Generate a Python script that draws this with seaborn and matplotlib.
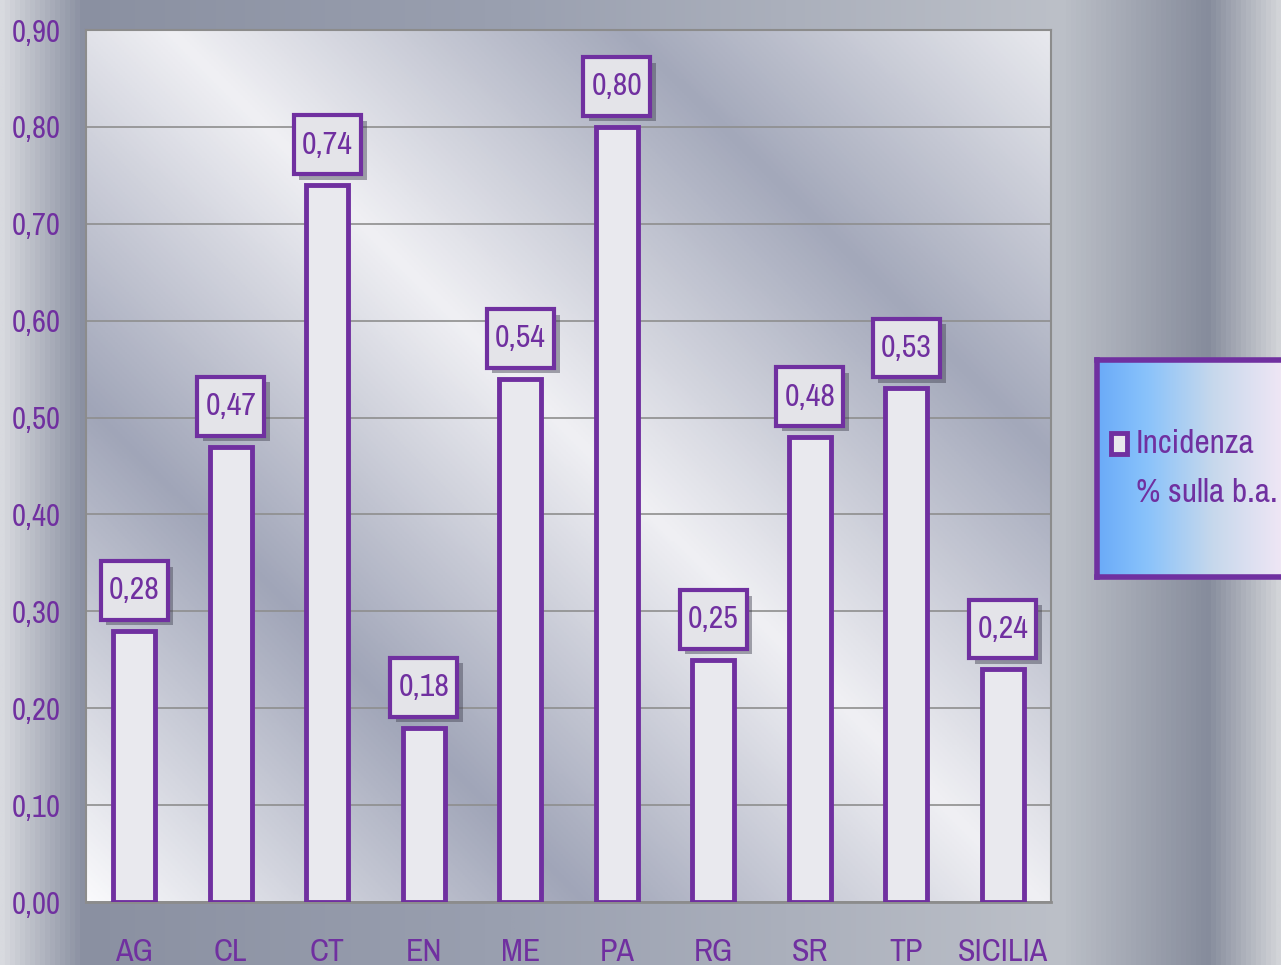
import numpy as np
import pandas as pd
import matplotlib
matplotlib.use("Agg")
import matplotlib.pyplot as plt
import matplotlib.patheffects as pe
import seaborn as sns
from matplotlib import font_manager
from matplotlib.colors import LinearSegmentedColormap
from matplotlib.patches import Rectangle
from matplotlib.path import Path
from matplotlib.ticker import FuncFormatter, FixedLocator

# ---- data ----
categories = ["AG", "CL", "CT", "EN", "ME", "PA", "RG", "SR", "TP", "SICILIA"]
values = [0.28, 0.47, 0.74, 0.18, 0.54, 0.80, 0.25, 0.48, 0.53, 0.24]
series_label = "Incidenza\n% sulla b.a."
y_ticks = [0.0, 0.1, 0.2, 0.3, 0.4, 0.5, 0.6, 0.7, 0.8, 0.9]

sns.set_theme(style="white")

# choose a condensed font if one is installed
ttf = font_manager.fontManager.ttflist
names = {f.name for f in ttf}
stretch = "normal"
cond_names = sorted(n for n in names if ("Narrow" in n or "Condensed" in n))
if cond_names:
    main_font = cond_names[0]
elif any(f.name == "DejaVu Sans" and f.stretch == "condensed" for f in ttf):
    main_font = "DejaVu Sans"
    stretch = "condensed"
else:
    main_font = "Roboto"
plt.rcParams["font.family"] = [main_font, "DejaVu Sans"]
plt.rcParams["font.stretch"] = stretch

PURPLE = "#7030a0"
W, H = 1281, 965
fig = plt.figure(figsize=(W / 100, H / 100), dpi=100)

# figure background gradient
bg = fig.add_axes([0, 0, 1, 1], zorder=-10)
bg_cmap = LinearSegmentedColormap.from_list(
    "bg", [(0.0, "#d8dadf"), (0.063, "#8a90a1"), (0.4, "#9aa0b0"),
           (0.83, "#bcc0c8"), (0.945, "#868c9c"), (1.0, "#d2d4d8")])
grad = np.tile(np.linspace(0, 1, 1024), (8, 1))
bg.imshow(grad, aspect="auto", cmap=bg_cmap, extent=[0, 1, 0, 1])
bg.set_axis_off()

# main axes
L, R, T, B = 86, 1051, 30, 902
ax = fig.add_axes([L / W, 1 - B / H, (R - L) / W, (B - T) / H])

# plot-area diagonal gradient
nx, ny = 400, 360
xs = np.linspace(0, R - L, nx)
ys = np.linspace(0, B - T, ny)
X, Y = np.meshgrid(xs, ys)
S = (X + Y) / ((R - L) + (B - T))
pa_cmap = LinearSegmentedColormap.from_list(
    "pa", [(0.0, "#fafafc"), (0.27, "#a0a5b8"), (0.52, "#f0f0f4"),
           (0.77, "#a3a8ba"), (1.0, "#e8e9ee")])
ax.imshow(S, cmap=pa_cmap, aspect="auto", extent=[0, 1, 1, 0],
          transform=ax.transAxes, zorder=0, vmin=0, vmax=1)

df = pd.DataFrame({"cat": categories, "val": values})
sns.barplot(data=df, x="cat", y="val", ax=ax, color="#e9e9ee",
            edgecolor=PURPLE, linewidth=3.5, width=0.44, saturation=1, zorder=3)

ax.set_ylim(0, 0.9)
ax.set_xlim(-0.5, len(categories) - 0.5)
ax.set_yticks(y_ticks)
ax.yaxis.set_major_formatter(FuncFormatter(lambda v, p: f"{v:.2f}".replace(".", ",")))
ax.grid(axis="y", color="#8e8e8e", linewidth=1.2, zorder=1)
ax.set_axisbelow(True)
for sp in ["top", "right", "left"]:
    ax.spines[sp].set_color("#8c8c8c")
    ax.spines[sp].set_linewidth(1.5)
ax.spines["bottom"].set_color("#8c8c8c")
ax.spines["bottom"].set_linewidth(2)
ax.tick_params(axis="y", length=0, pad=18, labelsize=22, labelcolor=PURPLE)
ax.tick_params(axis="x", which="major", length=0, pad=26, labelsize=23, labelcolor=PURPLE)
ax.xaxis.set_minor_locator(FixedLocator(np.arange(-0.5, len(categories), 1.0)))
ax.tick_params(axis="x", which="minor", length=10, width=2, color="#8c8c8c", direction="out")
ax.set_xlabel("")
ax.set_ylabel("")


def tall_box(x0, y0, width, height, mutation_size):
    px = 0.26 * mutation_size
    py = 0.48 * mutation_size
    xa, xb = x0 - px, x0 + width + px
    ya, yb = y0 - py, y0 + height + py
    return Path([(xa, ya), (xb, ya), (xb, yb), (xa, yb), (xa, ya)], closed=True)


# value labels
shadow = [pe.SimplePatchShadow(offset=(4, -4), shadow_rgbFace="#404050", alpha=0.45),
          pe.Normal()]
for i, v in enumerate(values):
    txt = f"{v:.2f}".replace(".", ",")
    t = ax.annotate(txt, (i, v), xytext=(0, 19), textcoords="offset points",
                    ha="center", va="bottom", fontsize=23, color=PURPLE,
                    bbox=dict(boxstyle=tall_box, fc="#e4e4e9", ec=PURPLE, lw=3),
                    zorder=5, annotation_clip=False)
    t.get_bbox_patch().set_path_effects(shadow)

# legend box with gradient
lx0, ly0, lx1, ly1 = 1097, 360, 1290, 577
lax = fig.add_axes([lx0 / W, 1 - ly1 / H, (lx1 - lx0) / W, (ly1 - ly0) / H], zorder=5)
leg_cmap = LinearSegmentedColormap.from_list(
    "leg", [(0.0, "#6aaaf8"), (0.25, "#88c2fb"), (0.6, "#c6d8ec"), (1.0, "#f4e8f6")])
lax.imshow(np.tile(np.linspace(0, 1, 256), (4, 1)), cmap=leg_cmap, aspect="auto",
           extent=[0, 1, 0, 1])
lax.set_xlim(0, 1)
lax.set_ylim(0, 1)
lax.set_xticks([])
lax.set_yticks([])
for sp in lax.spines.values():
    sp.set_color(PURPLE)
    sp.set_linewidth(4)
lax.add_patch(Rectangle((0.075, 0.565), 0.08, 0.1, fc="#e8e8ec", ec=PURPLE, lw=3.5,
                        transform=lax.transAxes))
line1, line2 = series_label.split("\n")
lax.text(0.2, 0.615, line1, fontsize=24, color=PURPLE, va="center", ha="left",
         transform=lax.transAxes)
lax.text(0.2, 0.385, line2, fontsize=24, color=PURPLE, va="center", ha="left",
         transform=lax.transAxes)

fig.savefig("out.png", dpi=100)
